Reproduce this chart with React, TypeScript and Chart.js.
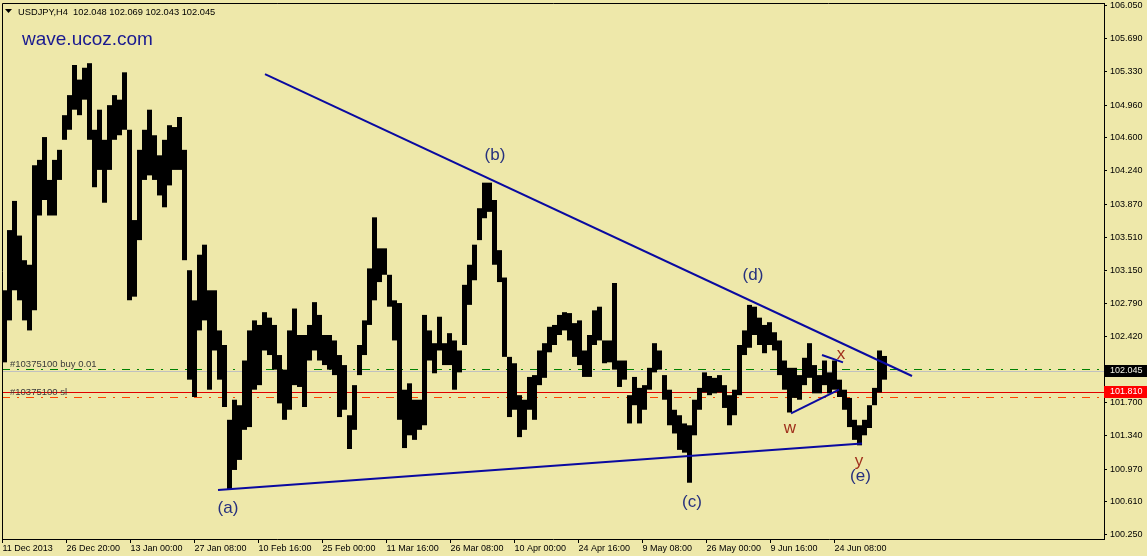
import React, { useEffect, useRef } from 'react';
import { Chart, registerables } from 'chart.js';

Chart.register(...registerables);

// ---- Data (USDJPY H4, 5-bar buckets: low / high) ----
const lows = [
  102.14, 102.60, 102.93, 102.82, 102.60, 102.49, 102.71, 103.75, 103.92, 103.75,
  103.75, 104.14, 104.58, 104.69, 104.91, 104.85, 105.02, 104.58, 104.06, 104.25,
  103.89, 104.25, 104.58, 104.63, 104.69, 102.82, 102.86, 103.48, 104.14, 104.19,
  104.14, 103.97, 103.84, 104.08, 104.25, 104.25, 103.26, 101.95, 101.76, 102.49,
  102.60, 101.84, 102.27, 101.95, 101.65, 100.74, 100.96, 101.07, 101.40, 101.43,
  101.84, 101.89, 102.27, 102.22, 102.06, 101.69, 101.51, 101.62, 101.89, 101.87,
  101.65, 102.16, 102.27, 102.16, 102.11, 102.06, 102.00, 101.54, 101.62, 101.19,
  101.40, 102.00, 102.22, 102.55, 102.82, 103.02, 103.10, 102.75, 102.38, 101.51,
  101.20, 101.34, 101.29, 101.40, 101.45, 102.16, 102.02, 102.27, 102.11, 102.11,
  101.84, 102.03, 102.33, 102.77, 103.04, 103.48, 103.72, 103.79, 103.21, 103.02,
  102.20, 101.54, 101.62, 101.32, 101.40, 101.62, 101.51, 101.89, 101.97, 102.25,
  102.33, 102.44, 102.49, 102.38, 102.20, 102.11, 101.98, 101.98, 102.33, 102.38,
  102.13, 102.14, 102.06, 101.87, 101.95, 101.47, 101.67, 101.47, 101.62, 101.84,
  102.03, 102.06, 101.73, 101.45, 101.36, 101.18, 101.15, 100.82, 101.34, 101.62,
  101.81, 101.78, 101.80, 101.81, 101.64, 101.45, 101.56, 101.78, 102.22, 102.30,
  102.44, 102.33, 102.24, 102.33, 102.27, 102.00, 101.84, 101.59, 101.75, 101.73,
  101.89, 101.97, 101.80, 101.80, 101.89, 101.80, 101.84, 101.76, 101.62, 101.43,
  101.29, 101.23, 101.34, 101.42, 101.67, 101.81, 101.95,
];
const highs = [
  102.93, 103.59, 103.91, 103.53, 103.26, 103.21, 104.30, 104.36, 104.61, 104.14,
  104.36, 104.47, 104.85, 105.07, 105.40, 105.24, 105.37, 105.42, 104.69, 104.91,
  104.58, 104.96, 105.07, 105.02, 105.32, 104.69, 103.70, 104.47, 104.69, 104.91,
  104.63, 104.41, 104.58, 104.74, 104.72, 104.83, 104.47, 103.15, 102.82, 103.32,
  103.43, 102.93, 102.93, 102.49, 102.33, 101.51, 101.73, 101.67, 102.16, 102.49,
  102.60, 102.55, 102.69, 102.63, 102.55, 102.22, 102.06, 102.49, 102.73, 102.44,
  102.44, 102.55, 102.80, 102.66, 102.44, 102.44, 102.38, 102.22, 102.11, 101.56,
  101.89, 102.33, 102.60, 103.17, 103.73, 103.39, 103.39, 103.10, 102.82, 102.79,
  101.84, 101.91, 101.73, 101.73, 102.66, 102.49, 102.35, 102.64, 102.35, 102.46,
  102.38, 102.27, 102.99, 103.21, 103.43, 103.83, 104.11, 104.11, 103.92, 103.37,
  103.07, 102.20, 102.13, 101.78, 101.73, 101.98, 102.00, 102.27, 102.35, 102.53,
  102.55, 102.66, 102.69, 102.68, 102.57, 102.60, 102.27, 102.44, 102.71, 102.75,
  102.38, 102.38, 103.01, 102.16, 102.16, 101.78, 101.98, 101.86, 101.89, 102.08,
  102.35, 102.27, 102.00, 101.84, 101.62, 101.56, 101.47, 101.45, 101.73, 101.86,
  102.03, 101.99, 101.97, 102.00, 101.89, 101.78, 101.84, 102.33, 102.49, 102.77,
  102.75, 102.63, 102.55, 102.58, 102.47, 102.38, 102.16, 102.08, 102.08, 102.00,
  102.19, 102.35, 102.11, 102.00, 102.16, 102.03, 102.16, 101.95, 101.84, 101.75,
  101.51, 101.45, 101.51, 101.67, 101.86, 102.27, 102.21,
];
const barsPerBucket = 5;

const xTickLabels = [
  '11 Dec 2013', '26 Dec 20:00', '13 Jan 00:00', '27 Jan 08:00', '10 Feb 16:00',
  '25 Feb 00:00', '11 Mar 16:00', '26 Mar 08:00', '10 Apr 00:00', '24 Apr 16:00',
  '9 May 08:00', '26 May 00:00', '9 Jun 16:00', '24 Jun 08:00',
];
const barsPerXLabel = 64;

const yTickValues = [
  106.05, 105.69, 105.33, 104.96, 104.6, 104.24, 103.87, 103.51, 103.15,
  102.79, 102.42, 101.7, 101.34, 100.97, 100.61, 100.25,
];

const headerText = 'USDJPY,H4  102.048 102.069 102.043 102.045';
const watermark = 'wave.ucoz.com';

const bidPrice = 102.045;
const orderPrice = 102.063;
const stopLinePrice = 101.81;
const stopOrderPrice = 101.756;
const orderLabel = '#10375100 buy 0.01';
const stopLabel = '#10375100 sl';

const upperLineBars = [262.5, 909.5];
const upperLinePrices = [105.30, 101.99];
const lowerLineBars = [215.5, 859.5];
const lowerLinePrices = [100.74, 101.25];
const wLineBars = [788.5, 836.5];
const wLinePrices = [101.58, 101.84];
const xLineBars = [819.5, 840.5];
const xLinePrices = [102.22, 102.14];

const waveLabels = ['(a)', '(b)', '(c)', '(d)', '(e)'];
const waveLabelBars = [225.5, 492.5, 689.5, 750.5, 858];
const waveLabelPrices = [100.54, 104.41, 100.60, 103.09, 100.89];
const subLabels = ['w', 'x', 'y'];
const subLabelBars = [787.5, 838.5, 856.5];
const subLabelPrices = [101.42, 102.23, 101.06];

const FONT = "'Liberation Sans', Arial, sans-serif";
const BG = '#EEE8AA';
const TREND = '#0A0AA0';

export default function App() {
  const ref = useRef<HTMLCanvasElement | null>(null);

  useEffect(() => {
    if (!ref.current) return;

    const bgPlugin = {
      id: 'bg',
      beforeDraw(chart: any) {
        const { ctx, width, height } = chart;
        ctx.save();
        ctx.fillStyle = BG;
        ctx.fillRect(0, 0, width, height);
        ctx.restore();
      },
    };

    const levelPlugin = {
      id: 'levels',
      beforeDatasetsDraw(chart: any) {
        const { ctx, chartArea: a, scales } = chart;
        const y = scales.y;
        const line = (price: number, color: string, dash: number[]) => {
          const py = Math.round(y.getPixelForValue(price)) + 0.5;
          ctx.save();
          ctx.strokeStyle = color;
          ctx.lineWidth = 1;
          ctx.setLineDash(dash);
          ctx.beginPath();
          ctx.moveTo(a.left, py);
          ctx.lineTo(a.right, py);
          ctx.stroke();
          ctx.restore();
        };
        line(bidPrice, '#C0C0C0', []);
        line(orderPrice, '#008000', [8, 7, 2, 7]);
        line(stopLinePrice, '#E00000', []);
        line(stopOrderPrice, '#FF4500', [8, 7, 2, 7]);
      },
    };

    const overlayPlugin = {
      id: 'overlay',
      afterDraw(chart: any) {
        const { ctx, chartArea: a, scales, width } = chart;
        const xs = scales.x;
        const ys = scales.y;
        ctx.save();
        // frame (left + top)
        ctx.strokeStyle = '#000';
        ctx.lineWidth = 1;
        ctx.beginPath();
        ctx.moveTo(a.left + 0.5, a.bottom);
        ctx.lineTo(a.left + 0.5, a.top + 0.5);
        ctx.lineTo(a.right, a.top + 0.5);
        ctx.stroke();

        // header
        ctx.fillStyle = '#000';
        ctx.beginPath();
        ctx.moveTo(5, 9);
        ctx.lineTo(12, 9);
        ctx.lineTo(8.5, 13);
        ctx.closePath();
        ctx.fill();
        ctx.font = `9.3px ${FONT}`;
        ctx.textAlign = 'left';
        ctx.textBaseline = 'alphabetic';
        ctx.fillText(headerText, 18, 14.5);

        // watermark
        ctx.fillStyle = '#1A1A90';
        ctx.font = `19px ${FONT}`;
        ctx.fillText(watermark, 22, 45);

        // order labels
        ctx.fillStyle = '#3A3A3A';
        ctx.font = `9.5px ${FONT}`;
        ctx.fillText(orderLabel, 10, Math.round(ys.getPixelForValue(orderPrice)) - 2);
        ctx.fillText(stopLabel, 10, Math.round(ys.getPixelForValue(stopOrderPrice)) - 2);

        // wave labels
        ctx.textAlign = 'center';
        ctx.textBaseline = 'middle';
        ctx.font = `17px ${FONT}`;
        ctx.fillStyle = '#26307E';
        waveLabels.forEach((t, i) => {
          ctx.fillText(t, xs.getPixelForValue(waveLabelBars[i]), ys.getPixelForValue(waveLabelPrices[i]));
        });
        ctx.fillStyle = '#A0301C';
        subLabels.forEach((t, i) => {
          ctx.fillText(t, xs.getPixelForValue(subLabelBars[i]), ys.getPixelForValue(subLabelPrices[i]));
        });

        // price boxes on axis
        const box = (price: number, fill: string, text: string, color: string) => {
          const py = ys.getPixelForValue(price);
          ctx.fillStyle = fill;
          ctx.fillRect(a.right, Math.round(py) - 6, width - a.right, 12);
          ctx.fillStyle = color;
          ctx.font = `9px ${FONT}`;
          ctx.textAlign = 'left';
          ctx.textBaseline = 'middle';
          ctx.fillText(text, a.right + 6, Math.round(py));
        };
        box(bidPrice, '#000000', bidPrice.toFixed(3), '#F2F2E6');
        box(stopLinePrice, '#FF0000', stopLinePrice.toFixed(3), '#FFFFFF');
        ctx.restore();
      },
    };

    const lineDs = (bars: number[], prices: number[]) => ({
      type: 'line' as const,
      data: bars.map((b, i) => ({ x: b, y: prices[i] })),
      borderColor: TREND,
      borderWidth: 2,
      pointRadius: 0,
      fill: false,
      tension: 0,
      order: 0,
    });

    const chart = new Chart(ref.current, {
      type: 'bar',
      data: {
        datasets: [
          lineDs(upperLineBars, upperLinePrices),
          lineDs(lowerLineBars, lowerLinePrices),
          lineDs(wLineBars, wLinePrices),
          lineDs(xLineBars, xLinePrices),
          {
            type: 'bar' as const,
            data: lows.map((lo, k) => ({
              x: k * barsPerBucket + (barsPerBucket - 1) / 2,
              y: [lo, highs[k]],
            })) as any,
            backgroundColor: '#000000',
            borderWidth: 0,
            barPercentage: 1,
            categoryPercentage: 1,
            inflateAmount: 0,
            grouped: false,
            order: 1,
          },
        ] as any,
      },
      options: {
        responsive: false,
        animation: false,
        events: [],
        layout: { padding: { left: 2, top: 3, right: 0, bottom: 0 } },
        plugins: { legend: { display: false }, tooltip: { enabled: false } },
        scales: {
          x: {
            type: 'linear',
            min: -0.5,
            max: 1101.5,
            offset: false,
            grid: {
              display: true,
              drawOnChartArea: false,
              drawTicks: true,
              tickLength: 4,
              tickColor: '#000',
              offset: false,
            },
            border: { display: true, color: '#000', width: 1 },
            ticks: {
              autoSkip: false,
              maxRotation: 0,
              minRotation: 0,
              align: 'start',
              padding: 0,
              color: '#000',
              font: { family: FONT, size: 9 },
              callback: (_v: any, i: number) => xTickLabels[i] ?? '',
            },
            afterBuildTicks: (s: any) => {
              s.ticks = xTickLabels.map((_, i) => ({ value: i * barsPerXLabel }));
            },
            afterFit: (s: any) => {
              s.height = 17;
              s.paddingLeft = 0;
              s.paddingRight = 0;
            },
          },
          y: {
            type: 'linear',
            position: 'right',
            min: 100.203,
            max: 106.08,
            grid: {
              display: true,
              drawOnChartArea: false,
              drawTicks: true,
              tickLength: 3,
              tickColor: '#000',
            },
            border: { display: true, color: '#000', width: 1 },
            ticks: {
              autoSkip: false,
              padding: 3,
              color: '#000',
              font: { family: FONT, size: 9 },
              callback: (v: any) => Number(v).toFixed(3),
            },
            afterBuildTicks: (s: any) => {
              s.ticks = yTickValues.map((v) => ({ value: v }));
            },
            afterFit: (s: any) => {
              s.width = 43;
              s.paddingTop = 0;
              s.paddingBottom = 0;
            },
          },
        },
      } as any,
      plugins: [bgPlugin, levelPlugin, overlayPlugin],
    });

    return () => chart.destroy();
  }, []);

  return (
    <div
      style={{
        position: 'fixed',
        left: 0,
        top: 0,
        width: 1147,
        height: 556,
        background: BG,
      }}
    >
      <canvas ref={ref} width={1147} height={556} style={{ display: 'block' }} />
    </div>
  );
}
